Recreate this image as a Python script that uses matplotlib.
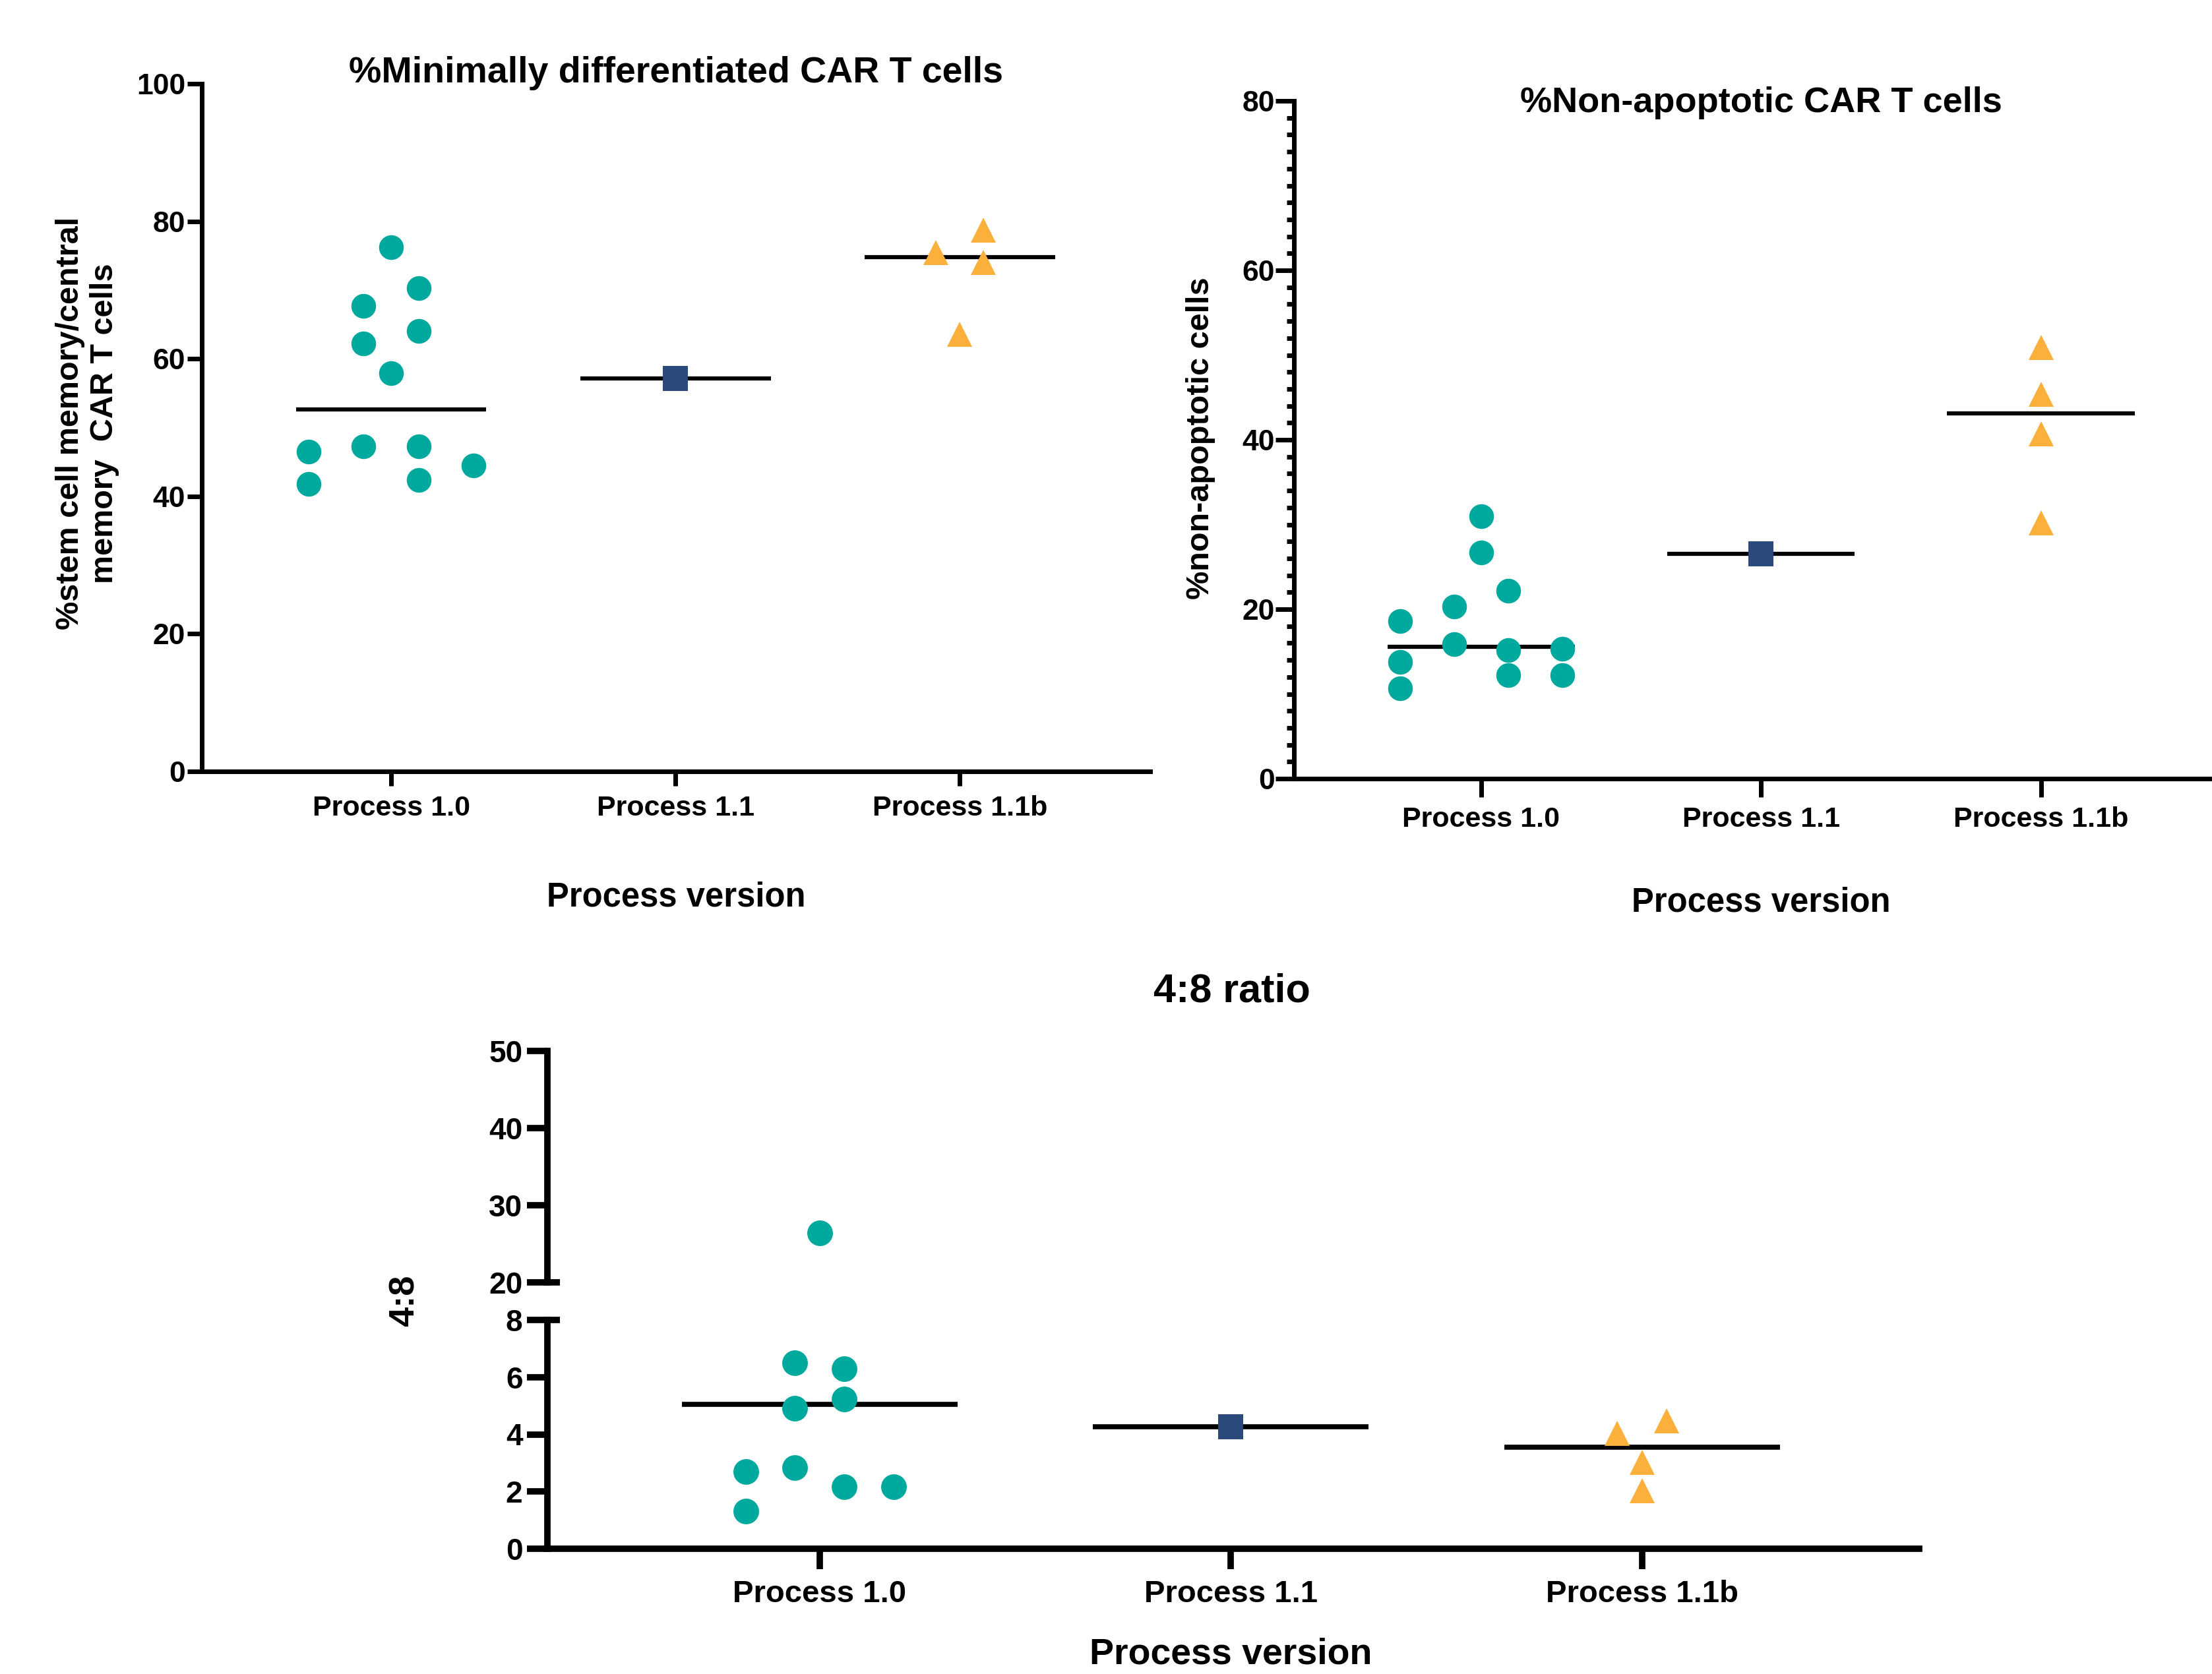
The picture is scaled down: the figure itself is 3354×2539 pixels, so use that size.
import matplotlib
matplotlib.use('Agg')
import matplotlib.pyplot as plt
import matplotlib.transforms as mtransforms
from matplotlib.ticker import MultipleLocator

plt.rcParams['font.family'] = ['Liberation Sans', 'DejaVu Sans']
plt.rcParams['font.weight'] = 'bold'

# categories
cats = ['Process 1.0', 'Process 1.1', 'Process 1.1b']

# %Minimally differentiated CAR T cells
min_p10 = [76.2, 70.3, 67.7, 64.0, 62.2, 57.9, 46.5, 47.3, 47.3, 44.5, 41.8, 42.4]
min_p11 = [57.1]
min_p11b = [75.5, 78.7, 74.0, 63.6]
min_center = [52.6, 57.1, 74.8]

# %Non-apoptotic CAR T cells
nonapo_p10 = [31.0, 26.7, 22.2, 20.3, 18.6, 15.9, 15.2, 15.3, 13.8, 12.2, 12.2, 10.7]
nonapo_p11 = [26.5]
nonapo_p11b = [50.9, 45.4, 40.7, 30.2]
nonapo_center = [15.6, 26.5, 43.1]

# 4:8 ratio
ratio_p10 = [26.4, 6.5, 6.3, 5.23, 4.9, 2.7, 2.84, 2.17, 2.17, 1.32]
ratio_p11 = [4.26]
ratio_p11b = [4.04, 4.48, 3.01, 2.03]
ratio_center = [5.06, 4.26, 3.55]

# horizontal scatter of points inside each column (category units)
min_off = [[0, 0.097, -0.097, 0.097, -0.097, 0, -0.29, -0.097, 0.097, 0.29, -0.29, 0.097],
           [0], [-0.084, 0.084, 0.084, 0]]
nonapo_off = [[0, 0, 0.097, -0.097, -0.29, -0.097, 0.097, 0.29, -0.29, 0.097, 0.29, -0.29],
              [0], [0, 0, 0, 0]]
ratio_off = [[0, -0.06, 0.06, 0.06, -0.06, -0.18, -0.06, 0.06, 0.18, -0.18],
             [0], [-0.06, 0.06, 0, 0]]

colors = ['#00A99D', '#2A4A7C', '#FBB03B']
markers = ['o', 's', '^']

W, H = 3355, 2539
fig = plt.figure(figsize=(W / 100, H / 100), dpi=100)


def rect(l, t, r, b):
    return [l / W, 1 - b / H, (r - l) / W, (b - t) / H]


def ftext(x, y, s, **kw):
    fig.text(x / W, 1 - y / H, s, ha='center', va='center', fontweight='bold', **kw)


def draw_groups(ax, groups, offs, centers, lw, ms=27):
    for i, (vals, off) in enumerate(zip(groups, offs)):
        ax.hlines(centers[i], i - 0.335, i + 0.335, color='black', lw=lw, zorder=2)
        ax.plot([i + o for o in off], vals, linestyle='none', marker=markers[i],
                color=colors[i], ms=ms, mew=0, zorder=3, clip_on=True)


def style(ax, lw, ticklen, fs, xpad=10, ypad=2):
    ax.spines['top'].set_visible(False)
    ax.spines['right'].set_visible(False)
    ax.spines['left'].set_linewidth(lw)
    ax.spines['bottom'].set_linewidth(lw)
    ax.tick_params(axis='both', length=ticklen, width=lw, labelsize=fs)
    ax.tick_params(axis='x', pad=xpad)
    ax.tick_params(axis='y', pad=ypad)


# panel 1
ax1 = fig.add_axes(rect(306, 127, 1744, 1170))
draw_groups(ax1, [min_p10, min_p11, min_p11b], min_off, min_center, lw=4.5)
ax1.set_xlim(-0.666, 2.67)
ax1.set_ylim(0, 100)
ax1.set_yticks([0, 20, 40, 60, 80, 100])
ax1.set_xticks(range(3))
ax1.set_xticklabels(cats)
style(ax1, 5, 16, 31)
ax1.tick_params(axis='y', labelsize=32)
ftext(1025, 111, '%Minimally differentiated CAR T cells', fontsize=40)
ftext(1025, 1361, 'Process version', fontsize=36.5)
ftext(133, 642, '%stem cell memory/central\nmemory  CAR T cells', fontsize=35, rotation=90)

# panel 2
ax2 = fig.add_axes(rect(1962, 153, 3379, 1181))
draw_groups(ax2, [nonapo_p10, nonapo_p11, nonapo_p11b], nonapo_off, nonapo_center, lw=4.5)
ax2.set_xlim(-0.669, 2.67)
ax2.set_ylim(0, 80)
ax2.set_yticks([0, 20, 40, 60, 80])
ax2.yaxis.set_minor_locator(MultipleLocator(2))
ax2.set_xticks(range(3))
ax2.set_xticklabels(cats)
style(ax2, 5, 20, 31, ypad=1)
ax2.tick_params(axis='y', labelsize=32)
ax2.tick_params(axis='y', which='minor', length=8, width=5)
ftext(2670, 156, '%Non-apoptotic CAR T cells', fontsize=39)
ftext(2670, 1369, 'Process version', fontsize=36.5)
ftext(1821, 665, '%non-apoptotic cells', fontsize=35, rotation=90)

# panel 3, broken y axis
ax3 = fig.add_axes(rect(830, 2002, 2910, 2349))
ax3u = fig.add_axes(rect(830, 1594, 2910, 1945))
for ax in (ax3, ax3u):
    draw_groups(ax, [ratio_p10, ratio_p11, ratio_p11b], ratio_off, ratio_center, lw=5.5, ms=28)
    ax.set_xlim(-0.662, 2.674)
    style(ax, 7, 22, 34, xpad=12, ypad=5)
    ax.tick_params(axis='y', labelsize=33)
ax3.set_ylim(0, 8)
ax3.set_yticks([0, 2, 4, 6, 8])
ax3.set_xticks(range(3))
ax3.set_xticklabels(cats)
ax3u.set_ylim(20, 50)
ax3u.set_yticks([20, 30, 40, 50])
ax3u.spines['bottom'].set_visible(False)
ax3u.xaxis.set_visible(False)
for ax, yv in ((ax3, 8), (ax3u, 20)):
    tr = mtransforms.blended_transform_factory(ax.transAxes, ax.transData)
    ax.plot([0, 0.009], [yv, yv], color='black', lw=7, transform=tr,
            clip_on=False, solid_capstyle='butt')
ftext(1868, 1504, '4:8 ratio', fontsize=44)
ftext(1866, 2510, 'Process version', fontsize=40)
ftext(614, 1973, '4:8', fontsize=39, rotation=90)

fig.savefig('out.png', dpi=100, facecolor='white')
